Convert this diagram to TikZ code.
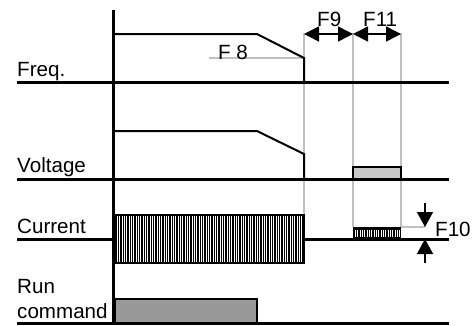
\documentclass[tikz,border=0pt]{standalone}
\usepackage{fontspec}
\setmainfont{Liberation Sans}
\usetikzlibrary{arrows.meta}
\definecolor{guide}{HTML}{C0C0C0}
\definecolor{runfill}{HTML}{999999}
\definecolor{voltfill}{HTML}{C8C8C8}
\tikzset{
  base/.style={line width=3pt},
  sig/.style={line width=2pt, line join=miter},
  guideline/.style={draw=guide, line width=1.5pt},
  lbl/.style={font=\fontsize{20.6}{22}\selectfont, inner sep=0pt, anchor=base west},
  dim/.style={line width=1.5pt, {Triangle[length=15pt,width=15pt]}-{Triangle[length=15pt,width=15pt]}},
  sdim/.style={line width=1.5pt, -{Triangle[length=15pt,width=16pt]}},
}
\begin{document}
\begin{tikzpicture}[x=1pt,y=-1pt]
\useasboundingbox (0,0) rectangle (473,325);
% guide lines
\draw[guideline] (304,33) -- (304,214);
\draw[guideline] (353,33) -- (353,227);
\draw[guideline] (401,33) -- (401,227) -- (425,227);
\draw[guideline] (209,58) -- (304,58);
% axis
\draw[base] (113,10) -- (113,325);
% baselines
\coordinate (f0) at (17,82);  \coordinate (f1) at (449,82);
\coordinate (v0) at (17,179); \coordinate (v1) at (449,179);
\coordinate (c0) at (17,239); \coordinate (c1) at (449,239);
\coordinate (r0) at (17,323); \coordinate (r1) at (449,323);
\draw[base] (f0) -- (f1);
\draw[base] (v0) -- (v1);
\draw[base] (c0) -- (c1);
\draw[base] (r0) -- (r1);
% freq profile
\draw[sig] (113,34) -- (257,34) -- (304,58) -- (304,82);
% voltage profile
\draw[sig] (113,131) -- (257,131) -- (304,154) -- (304,179);
% voltage box
\draw[line width=2pt, fill=voltfill] (353,167) rectangle (401,179);
% current boxes
\fill[black] (115,214) rectangle (305,264);
\foreach \i in {0,...,80} {
  \pgfmathsetmacro{\xx}{117.5+\i*2.33}
  \ifdim \xx pt<303pt \draw[white, line width=0.8pt] (\xx,216) -- (\xx,262); \fi
}
\fill[black] (353,227) rectangle (401,239);
\foreach \i in {0,...,20} {
  \pgfmathsetmacro{\xx}{355.5+\i*2.33}
  \ifdim \xx pt<400pt \draw[white, line width=0.8pt] (\xx,229.5) -- (\xx,237); \fi
}
% run command box
\draw[line width=1.5pt, fill=runfill] (115,299) rectangle (257,323);
% dimension arrows
\coordinate (a0) at (304,34); \coordinate (a1) at (353,34); \coordinate (a2) at (401,34);
\draw[dim] (a0) -- (a1);
\draw[dim] (a1) -- (a2);
\coordinate (d0) at (425,203); \coordinate (d1) at (425,227);
\coordinate (u0) at (425,263); \coordinate (u1) at (425,239);
\draw[sdim] (d0) -- (d1);
\draw[sdim] (u0) -- (u1);
% labels
\node[lbl] (lf) at (17,76) {Freq.};
\node[lbl] (lv) at (17,172) {Voltage};
\node[lbl] (lc) at (17,233) {Current};
\node[lbl] (lr) at (17,293) {Run};
\node[lbl] (lrc) at (17,318) {command};
\node[lbl] (f8) at (218,59) {F 8};
\node[lbl] (f9) at (317,26) {F9};
\node[lbl] (f11) at (363,26) {F11};
\node[lbl] (f10) at (435,236) {F10};
\end{tikzpicture}
\end{document}
